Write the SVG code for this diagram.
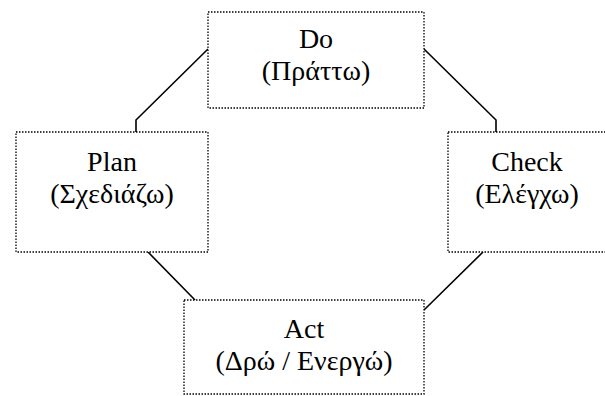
<svg xmlns="http://www.w3.org/2000/svg" width="605" height="396" viewBox="0 0 605 396">
<style>
.box{fill:#fff;stroke:#000;stroke-width:1.3;stroke-dasharray:1.5 1.5}
.t{font-family:"Liberation Serif","Times New Roman",serif;font-size:28px;fill:#000;text-anchor:middle}
.c{fill:none;stroke:#000;stroke-width:1.6}
</style>
<rect width="605" height="396" fill="#fff"/>
<g id="connectors">
<polyline class="c" points="136,132 136,120 208,49"/>
<polyline class="c" points="424,49 496,120 496,132"/>
<line class="c" x1="148" y1="252" x2="195" y2="300"/>
<line class="c" x1="483" y1="252" x2="424" y2="310"/>
</g>
<g id="do">
<rect class="box" x="208" y="12" width="216" height="96"/>
<text class="t" x="316" y="48">Do</text>
<text class="t" x="316" y="80">(Πράττω)</text>
</g>
<g id="plan">
<rect class="box" x="16" y="132" width="192" height="120"/>
<text class="t" x="112" y="171">Plan</text>
<text class="t" x="112" y="203">(Σχεδιάζω)</text>
</g>
<g id="check">
<rect class="box" x="448" y="132" width="160" height="120"/>
<text class="t" x="527" y="171">Check</text>
<text class="t" x="527" y="203">(Ελέγχω)</text>
</g>
<g id="act">
<rect class="box" x="184" y="300" width="240" height="94"/>
<text class="t" x="304" y="338">Act</text>
<text class="t" x="304" y="370">(Δρώ / Ενεργώ)</text>
</g>
</svg>
